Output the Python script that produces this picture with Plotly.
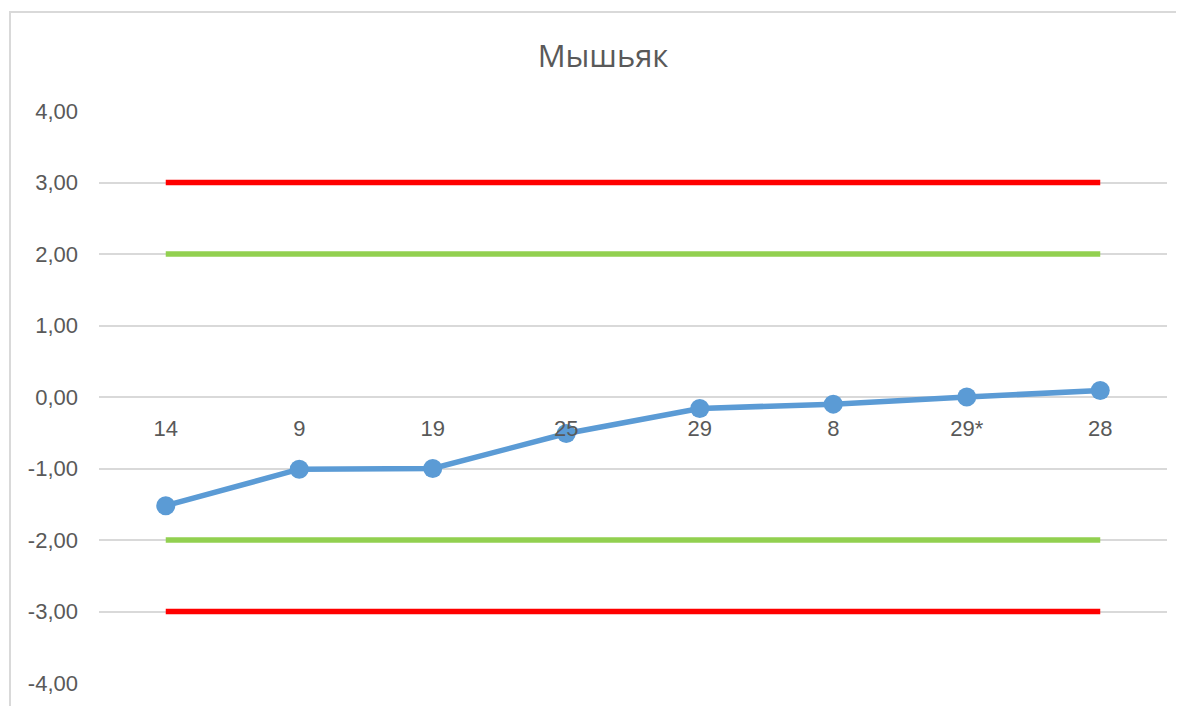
import plotly.graph_objects as go

categories = ["14", "9", "19", "25", "29", "8", "29*", "28"]
values = [-1.52, -1.01, -1.0, -0.51, -0.16, -0.10, 0.0, 0.09]
upper_red = [3.0] * 8
upper_green = [2.0] * 8
lower_green = [-2.0] * 8
lower_red = [-3.0] * 8
y_tick_values = [-4, -3, -2, -1, 0, 1, 2, 3, 4]
y_tick_labels = ["-4,00", "-3,00", "-2,00", "-1,00", "0,00", "1,00", "2,00", "3,00", "4,00"]
title_text = "Мышьяк"

RED = "#ff0000"
GREEN = "#92d050"
BLUE = "#5b9bd5"
GRAY = "#595959"
GRID = "#d9d9d9"
FONT = "Liberation Sans"

fig = go.Figure()
for ys, col in [(upper_red, RED), (upper_green, GREEN), (lower_green, GREEN), (lower_red, RED)]:
    fig.add_trace(go.Scatter(x=categories, y=ys, mode="lines",
                             line=dict(color=col, width=5.5), hoverinfo="skip", showlegend=False))
fig.add_trace(go.Scatter(x=categories, y=values, mode="lines+markers",
                         line=dict(color=BLUE, width=5.5),
                         marker=dict(color=BLUE, size=19), showlegend=False))

# page body has an 8px margin; compensate so the plot lands where the reference has it
OFF = 8
W, H = 1184, 706
L, T = 99 - OFF, 111 - OFF
R = W - (1167 - OFF)
B = H - (683 - OFF)
pw, ph = W - L - R, H - T - B

fig.update_layout(
    width=W, height=H,
    margin=dict(l=L, r=R, t=T, b=B),
    paper_bgcolor="white", plot_bgcolor="white",
    title=dict(text=title_text, x=(603 - OFF) / W, xref="container", xanchor="center",
               y=1 - (56 - OFF) / H, yref="container", yanchor="middle",
               font=dict(family="Open Sans", size=31, color=GRAY)),
    xaxis=dict(type="category", range=[-0.5, 7.5], anchor="free", position=0.5,
               showgrid=False, showline=False, zeroline=False, ticks="",
               ticklabelstandoff=16,
               tickfont=dict(family=FONT, size=22, color=GRAY)),
    yaxis=dict(range=[-4, 4], tickvals=y_tick_values, ticktext=y_tick_labels,
               showgrid=True, gridcolor=GRID, gridwidth=2, zeroline=False, showline=False,
               ticks="", ticklabelstandoff=20,
               tickfont=dict(family=FONT, size=22, color=GRAY)),
    shapes=[dict(type="rect", xref="paper", yref="paper",
                 x0=(10 - OFF - L) / pw, x1=(W + 20 - L) / pw,
                 y0=-(B + 20) / ph, y1=1 + (T - (12 - OFF)) / ph,
                 line=dict(color=GRID, width=2), layer="below")],
)

fig.write_html("out.html")
